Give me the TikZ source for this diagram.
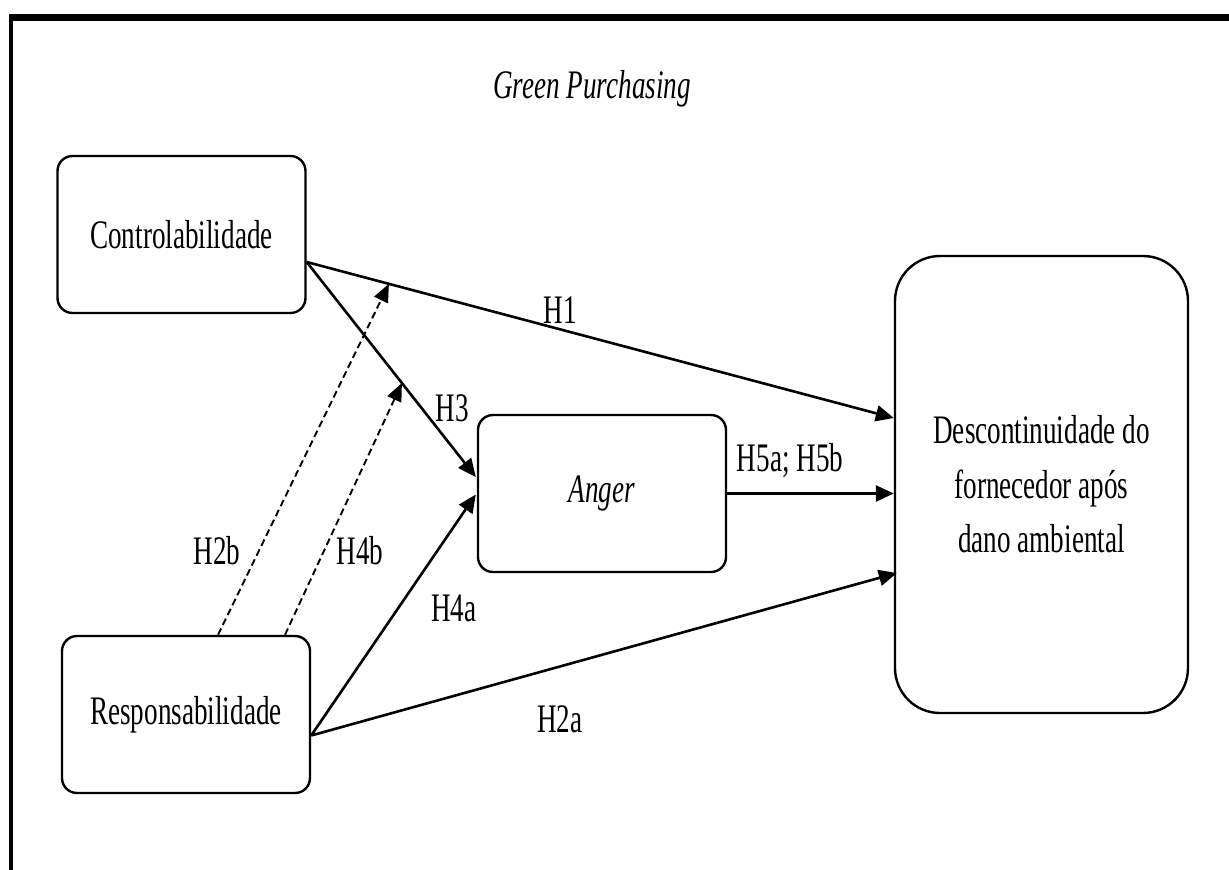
\documentclass[tikz,border=0pt]{standalone}
\usepackage{fontspec}
\setmainfont[FakeStretch=0.67]{Liberation Serif}
\usetikzlibrary{arrows.meta,calc}
\begin{document}
\begin{tikzpicture}[x=1pt,y=-1pt,
  txt/.style={font=\fontsize{40.5}{54.5}\selectfont, inner sep=0pt},
  boxsm/.style={draw, line width=2.4pt, rounded corners=15pt, minimum width=248pt, minimum height=157pt, txt, align=center},
  boxbig/.style={draw, line width=2.4pt, rounded corners=45pt, minimum width=293pt, minimum height=457pt, txt, align=center},
  conn/.style={line width=2.6pt, -{Triangle[length=18pt,width=16pt]}},
  dconn/.style={line width=1.9pt, dash pattern=on 7pt off 4pt, -{Triangle[length=18pt,width=15pt]}},
  lbl/.style={txt}
]
\useasboundingbox (0,0) rectangle (1229,870);
% frame
\draw[line width=7pt] (9.5,17) -- (1229,17);
\draw[line width=4pt] (11,14) -- (11,870);

\node[txt, font=\fontsize{40.5}{54.5}\selectfont\itshape] (title) at (592,89) {Green Purchasing};

\node[boxsm] (ctrl) at (181.5,234.5) {Controlabilidade};
\node[boxsm] (resp) at (186,714.5) {Responsabilidade};
\node[boxsm, font=\fontsize{40.5}{54.5}\selectfont\itshape] (anger) at (602,493.5) {Anger};
\node[boxbig] (desc) at (1041.5,484.5) {Descontinuidade do\\fornecedor após\\dano ambiental};

\coordinate (c1) at ($(ctrl.east)+(0,27.5)$);
\coordinate (r1) at ($(resp.east)+(0,21)$);
\coordinate (h1tip) at ($(desc.west)+(0,-66.5)$);
\coordinate (h3tip) at ($(anger.west)+(-1,-16.5)$);
\coordinate (h4atip) at ($(anger.west)+(-1,1)$);
\coordinate (h2atip) at ($(desc.west)+(3,88.5)$);

\draw[conn] (c1) -- (h1tip);
\draw[conn] (c1) -- (h3tip);
\draw[conn] (r1) -- (h4atip);
\draw[conn] (r1) -- (h2atip);
\draw[conn] (anger.east) -- (anger.east -| desc.west);

\coordinate (h2bs) at ($(resp.north)+(32,0)$);
\coordinate (h4bs) at ($(resp.north)+(99,0)$);
\draw[dconn] (h2bs) -- ($(c1)!0.14!(h1tip)$);
\draw[dconn] (h4bs) -- ($(c1)!0.563!(h3tip)$);

\node[lbl] (lH1) at (560,310) {H1};
\node[lbl] (lH3) at (452,408) {H3};
\node[lbl] (lH5) at (790,461) {H5a; H5b};
\node[lbl] (lH2b) at (217,551) {H2b};
\node[lbl] (lH4b) at (360,551) {H4b};
\node[lbl] (lH4a) at (454,608) {H4a};
\node[lbl] (lH2a) at (560,719) {H2a};
\end{tikzpicture}
\end{document}
